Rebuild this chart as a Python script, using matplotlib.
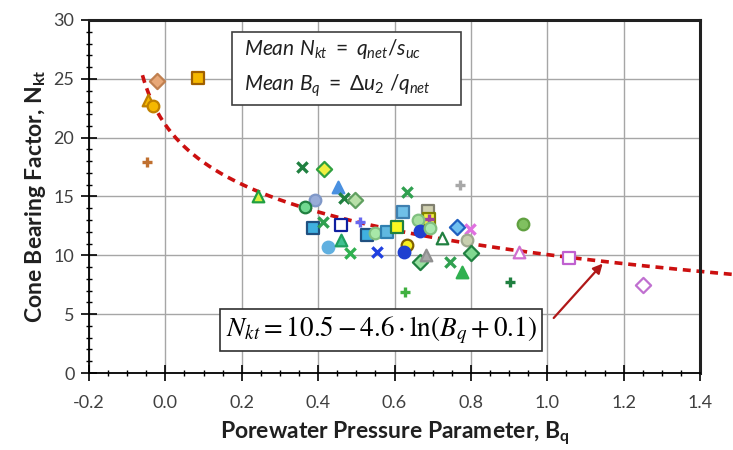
import numpy as np
import matplotlib
matplotlib.use("Agg")
import matplotlib.pyplot as plt
from matplotlib.ticker import MultipleLocator, FormatStrFormatter

# ---- data ----
bq = [-0.022, 0.085, -0.046, -0.032, -0.048,
      0.243, 0.358, 0.415, 0.452, 0.392, 0.366, 0.468, 0.497,
      0.387, 0.413, 0.46, 0.51, 0.426, 0.46, 0.483, 0.528, 0.549, 0.554, 0.58,
      0.607, 0.622, 0.633, 0.625, 0.667, 0.682, 0.627, 0.633, 0.688, 0.69, 0.69,
      0.661, 0.667, 0.693, 0.724, 0.764, 0.797, 0.79, 0.80, 0.745, 0.777, 0.771,
      0.937, 0.926, 0.902, 1.057, 1.25]
nkt = [24.8, 25.1, 23.2, 22.7, 17.9,
       15.0, 17.5, 17.3, 15.8, 14.7, 14.1, 14.9, 14.7,
       12.3, 12.8, 12.6, 12.8, 10.7, 11.3, 10.2, 11.7, 11.9, 10.3, 12.0,
       12.4, 13.7, 10.9, 10.3, 9.4, 10.0, 6.9, 15.4, 13.8, 13.1, 13.1,
       13.0, 12.1, 12.3, 11.5, 12.4, 12.2, 11.3, 10.2, 9.4, 8.6, 16.0,
       12.7, 10.3, 7.7, 9.8, 7.5]
markers = ['D', 's', '^', 'o', '+',
           '^', 'x', 'D', '^', 'o', 'o', 'x', 'D',
           's', 'x', 's', '+', 'o', '^', 'x', 's', 'o', 'x', 's',
           's', 's', 'o', 'o', 'D', '^', '+', 'x', 's', 's', '+',
           'o', 'o', 'o', '^', 'D', 'x', 'o', 'D', 'x', '^', '+',
           'o', '^', '+', 's', 'D']
faces = ['#e8a878', '#f5b800', '#f5b800', '#f5b800', '#c07030',
         '#d8f040', '#208040', '#f0f040', '#4a90e0', '#98acd8', '#70d890', '#208040', '#b8e0a8',
         '#40b0e0', '#30a050', 'white', '#6868f0', '#60b0e0', '#40c090', '#30b050', '#40b0e0', '#a8e8a8', '#2040e0', '#60b8e0',
         '#f8f820', '#70c0e8', '#f8f020', '#2040d0', '#98e0a0', '#a8a8a8', '#40b040', '#30a050', '#d0d0b0', '#f0f040', '#a040a0',
         '#a8e0a0', '#2040d0', '#a8e8b0', 'white', '#70c0f0', '#e070e0', '#c8d0b0', '#80d890', '#30a050', '#30b050', '#a8a8a8',
         '#80c060', 'white', '#208040', 'white', 'white']
edges = ['#c08050', '#a06000', '#c08000', '#c08000', '#c07030',
         '#20a040', '#208040', '#30a040', '#4a90e0', '#8098c8', '#208040', '#208040', '#60a060',
         '#205080', '#30a050', '#1020a0', '#6868f0', '#60b0e0', '#20a060', '#30b050', '#205080', '#80c080', '#2040e0', '#3080b0',
         '#208040', '#4080b0', '#806000', '#2040d0', '#208040', '#909090', '#40b040', '#30a050', '#808070', '#808000', '#a040a0',
         '#80c080', '#2040d0', '#80c080', '#208040', '#2060c0', '#e070e0', '#a0a890', '#208040', '#30a050', '#30b050', '#a8a8a8',
         '#60a040', '#d070d0', '#208040', '#c060d0', '#c070d0']

eq_a = 10.5
eq_b = 4.6
eq_c = 0.1

xticks = [-0.2, 0.0, 0.2, 0.4, 0.6, 0.8, 1.0, 1.2, 1.4]
yticks = [0, 5, 10, 15, 20, 25, 30]

plt.rcParams['font.family'] = ['Lato', 'DejaVu Sans']
plt.rcParams['mathtext.fontset'] = 'custom'
plt.rcParams['mathtext.rm'] = 'Lato'
plt.rcParams['mathtext.it'] = 'Lato:italic'
plt.rcParams['mathtext.bf'] = 'Lato:bold'

fig = plt.figure(figsize=(7.33, 4.5), dpi=100)
ax = fig.add_axes([0.1214, 0.1711, 0.955 - 0.1214, 0.9556 - 0.1711])

ax.set_xlim(-0.2, 1.4)
ax.set_ylim(0, 30)
ax.set_xticks(xticks)
ax.set_yticks(yticks)
ax.xaxis.set_major_formatter(FormatStrFormatter('%.1f'))
ax.xaxis.set_minor_locator(MultipleLocator(0.05))
ax.yaxis.set_minor_locator(MultipleLocator(1))
ax.grid(True, which='major', color='#a6a6a6', linewidth=1.0)
ax.set_axisbelow(True)
ax.tick_params(which='major', direction='inout', length=11, width=1.2, labelsize=13,
               labelcolor='#404040', color='black')
ax.tick_params(which='minor', direction='inout', length=5, width=1.0, color='black')
ax.tick_params(axis='x', pad=10)
ax.tick_params(axis='y', pad=5)
for s in ['top', 'right']:
    ax.spines[s].set_linewidth(2.2)
    ax.spines[s].set_color('#202020')
for s in ['left', 'bottom']:
    ax.spines[s].set_linewidth(1.3)

ax.set_xlabel(r'Porewater Pressure Parameter, B$_\mathregular{q}$', fontsize=16.5,
              fontweight='bold', color='#202020', labelpad=6)
ax.set_ylabel(r'Cone Bearing Factor, N$_\mathregular{kt}$', fontsize=16.5,
              fontweight='bold', color='#202020', labelpad=4)

# fitted curve
xc = np.linspace(-0.06, 1.49, 300)
yc = eq_a - eq_b * np.log(xc + eq_c)
ax.plot(xc, yc, color='#cc1010', linestyle=(0, (2.2, 1.6)), linewidth=2.6,
        clip_on=False, zorder=2)

# data points
for x, y, m, fc, ec in zip(bq, nkt, markers, faces, edges):
    if m in ('+', 'x'):
        ax.scatter(x, y, marker=m, s=55, color=fc, linewidths=2.4, zorder=3)
    else:
        sz = {'D': 60, 's': 65, '^': 70, 'o': 70}[m]
        ax.scatter(x, y, marker=m, s=sz, facecolor=fc, edgecolor=ec,
                   linewidths=1.6, zorder=3)

# definitions box
ax.text(0.205, 27.5, r'$Mean\ N_{kt}\ =\ q_{net}/s_{uc}$', fontsize=15,
        math_fontfamily='custom', color='#202020', va='center', ha='left',
        zorder=5)
ax.text(0.205, 24.4, r'$Mean\ B_q\ =\ \Delta u_{\mathit{2}}\ /q_{net}$', fontsize=15,
        math_fontfamily='custom', color='#202020', va='center', ha='left',
        zorder=5)
ax.add_patch(plt.Rectangle((0.174, 22.8), 0.6, 6.2, facecolor='white',
                           edgecolor='#404040', linewidth=1.2, zorder=4))

# equation box
ax.text(0.565, 3.65, r'$N_{kt}=10.5-4.6\cdot\ln(B_q+0.1)$', fontsize=19.5,
        math_fontfamily='stix', ha='center', va='center', color='black',
        bbox=dict(boxstyle='square,pad=0.2', facecolor='white', edgecolor='#303030',
                  linewidth=1.2), zorder=5)

ax.annotate('', xy=(1.15, eq_a - eq_b * np.log(1.15 + eq_c)), xytext=(1.012, 4.5),
            arrowprops=dict(arrowstyle='-|>', color='#b01818', lw=1.6,
                            mutation_scale=14), zorder=5)

fig.savefig('out.png', dpi=100)
